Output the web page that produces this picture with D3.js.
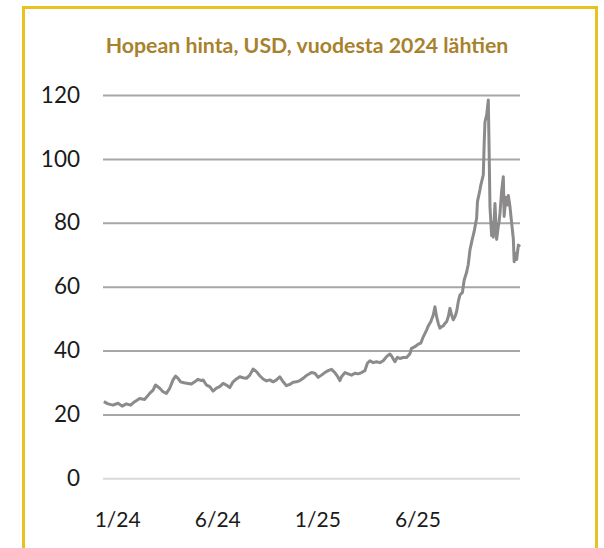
<!DOCTYPE html>
<html>
<head>
<meta charset="utf-8">
<script src="https://cdn.jsdelivr.net/npm/d3@7"></script>
<style>
  body { margin: 0; background: #fff; }
  text { font-family: Lato, "Open Sans", sans-serif; }
</style>
</head>
<body>
<div id="chart"></div>
<script>
// silver price, USD, by trading day counted from the start of 2024
var silver = [
  [1, 24.0], [6, 23.3], [12, 22.9], [18, 23.5], [23, 22.6], [28, 23.3], [33, 22.9],
  [38, 24.0], [44, 25.0], [50, 24.7], [56, 26.6], [60, 27.6], [63, 29.2], [68, 28.2],
  [72, 27.1], [76, 26.6], [80, 28.2], [84, 30.8], [87, 32.0], [90, 31.3], [93, 30.2],
  [97, 29.9], [102, 29.7], [106, 29.5], [110, 30.2], [114, 31.0], [118, 30.6], [120, 30.8],
  [124, 29.2], [128, 28.7], [132, 27.3], [136, 28.2], [140, 28.7], [144, 29.7], [148, 29.2],
  [152, 28.4], [156, 30.2], [160, 31.1], [164, 31.8], [168, 31.5], [172, 31.3], [176, 32.3],
  [180, 34.2], [184, 33.4], [188, 32.1], [192, 31.1], [196, 30.5], [200, 30.8], [204, 30.2],
  [208, 30.8], [212, 31.8], [216, 30.2], [220, 29.0], [224, 29.4], [228, 30.1], [232, 30.2],
  [236, 30.6], [240, 31.3], [244, 32.2], [250, 33.1], [254, 32.9], [258, 31.6], [262, 32.3],
  [266, 33.1], [270, 33.7], [274, 34.1], [278, 33.1], [281, 32.0], [284, 30.6], [286, 31.8],
  [290, 33.1], [294, 32.7], [298, 32.3], [302, 32.9], [306, 32.7], [310, 33.1], [314, 33.7],
  [317, 36.0], [320, 36.8], [324, 36.2], [328, 36.5], [332, 36.2], [336, 36.8], [340, 38.1],
  [344, 38.9], [346, 38.3], [350, 36.5], [353, 37.9], [356, 37.5], [360, 37.8], [364, 37.8],
  [368, 39.0], [370, 40.7], [374, 41.2], [378, 42.0], [381, 42.3], [384, 44.3], [388, 46.4],
  [390, 47.7], [393, 49.0], [396, 51.1], [398, 53.7], [400, 50.6], [402, 48.5], [404, 47.0],
  [406, 47.5], [408, 47.7], [410, 48.5], [412, 49.0], [414, 50.6], [416, 53.2], [418, 51.1],
  [420, 49.6], [422, 50.6], [424, 52.2], [426, 55.3], [428, 57.4], [431, 58.2], [433, 62.0],
  [436, 64.5], [438, 67.0], [440, 71.5], [443, 75.1], [445, 77.2], [448, 81.4], [449, 86.6],
  [452, 90.3], [453, 91.8], [456, 95.0], [457, 104.4], [458, 111.6], [460, 113.7], [462, 118.4],
  [463, 102.3], [464, 85.0], [466, 76.0], [467, 80.0], [468, 75.5], [470, 86.0], [471, 80.0],
  [472, 74.8], [474, 79.0], [475, 80.5], [476, 83.0], [478, 90.0], [480, 94.4], [481, 82.0],
  [483, 88.0], [485, 85.6], [486, 88.5], [488, 85.0], [490, 79.9], [492, 75.0], [493, 67.8],
  [494, 70.5], [496, 68.5], [498, 73.0], [500, 72.5]
];

var yTicks = [0, 20, 40, 60, 80, 100, 120];
var xLabels = ["1/24", "6/24", "1/25", "6/25"];
var xLabelDays = [17, 137, 257, 377];

var w = 604;
var h = 548;

var svg = d3.select("#chart")
    .append("svg")
    .attr("width", w)
    .attr("height", h);

// yellow frame, open at the bottom
svg.append("rect")
    .attr("x", 23.5)
    .attr("y", 7.5)
    .attr("width", 573)
    .attr("height", 600)
    .attr("fill", "none")
    .attr("stroke", "#E8C21E")
    .attr("stroke-width", 3);

svg.append("text")
    .attr("x", 307)
    .attr("y", 53)
    .attr("text-anchor", "middle")
    .attr("font-size", 21.3)
    .attr("font-weight", "bold")
    .attr("fill", "#A8812C")
    .text("Hopean hinta, USD, vuodesta 2024 lähtien");

var x = d3.scaleLinear().domain([0, 500]).range([103, 520]);
var y = d3.scaleLinear().domain([0, 120]).range([478.3, 95]);

// gridlines + y labels
var yAxis = svg.append("g")
    .attr("transform", "translate(103,0)")
    .call(d3.axisLeft(y).tickValues(yTicks).tickSize(-417).tickPadding(23));
yAxis.select(".domain").remove();
yAxis.selectAll(".tick line")
    .attr("stroke", function(d) { return d === 0 ? "#D9D9D9" : "#A6A6A6"; })
    .attr("stroke-width", 2);
yAxis.selectAll(".tick text")
    .attr("font-family", "Lato, sans-serif")
    .attr("font-size", 22.5)
    .attr("fill", "#1a1a1a");

// x labels, every 120 trading days
var xAxis = svg.append("g")
    .attr("transform", "translate(0,498)")
    .call(d3.axisBottom(x).tickValues(xLabelDays).tickSize(0).tickPadding(14)
        .tickFormat(function(d, i) { return xLabels[i]; }));
xAxis.select(".domain").remove();
xAxis.selectAll(".tick text")
    .attr("font-family", "Lato, sans-serif")
    .attr("font-size", 21)
    .attr("fill", "#1a1a1a");

var line = d3.line()
    .x(function(d) { return x(d[0]); })
    .y(function(d) { return y(d[1]); });

svg.append("path")
    .datum(silver)
    .attr("d", line)
    .attr("fill", "none")
    .attr("stroke", "#8C8A8B")
    .attr("stroke-width", 3)
    .attr("stroke-linejoin", "round");
</script>
</body>
</html>
